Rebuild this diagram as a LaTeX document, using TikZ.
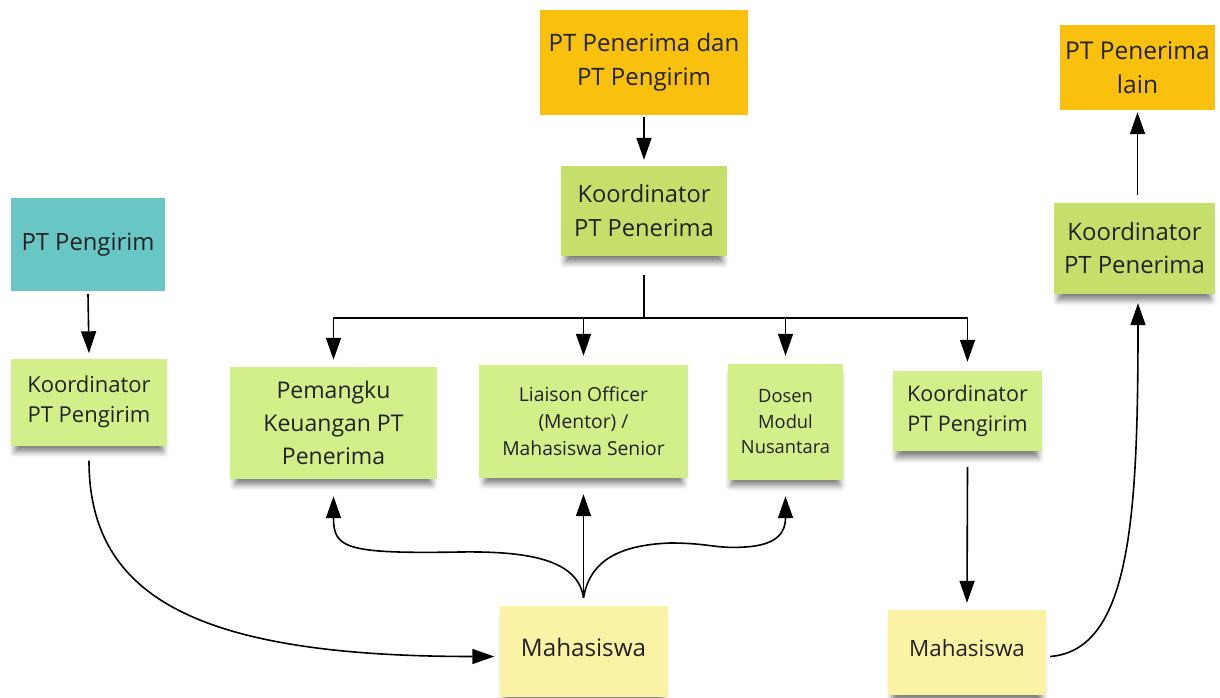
\documentclass[tikz,border=0pt]{standalone}
\usepackage{fontspec}
\setmainfont{Open Sans}
\usetikzlibrary{arrows.meta,shadows.blur}
\definecolor{tealc}{HTML}{68C7C5}
\definecolor{orangec}{HTML}{F9C10D}
\definecolor{limed}{HTML}{C6DF6A}
\definecolor{limel}{HTML}{D3EF8A}
\definecolor{yell}{HTML}{FAF3A6}
\definecolor{txt}{HTML}{222222}
\begin{document}
\begin{tikzpicture}[x=1pt,y=-1pt,
  note/.style={inner sep=0pt, align=center, text=txt, font=\fontsize{23.8}{33}\selectfont},
  shad/.style={blur shadow={shadow xshift=0pt, shadow yshift=-9pt, shadow blur radius=6pt, shadow opacity=50, shadow scale=0.95}},
  arr/.style={line width=1.6pt, -{Triangle[length=22pt,width=15pt]}},
  ln/.style={line width=1.6pt}]
\useasboundingbox (0,0) rectangle (1220,698);

\node[note, fill=tealc, minimum width=154pt, minimum height=93pt] (ptp) at (88,244.5) {PT Pengirim};
\node[note, shad, fill=limel, minimum width=156pt, minimum height=87pt, font=\fontsize{22}{30}\selectfont] (koorL) at (89,402) {Koordinator\\PT Pengirim};
\node[note, fill=orangec, minimum width=208pt, minimum height=105pt, font=\fontsize{24}{34}\selectfont] (top) at (644,62.5) {PT Penerima dan\\PT Pengirim};
\node[note, shad, fill=limed, minimum width=166pt, minimum height=90pt, font=\fontsize{23.7}{34}\selectfont] (koorC) at (644,211) {Koordinator\\PT Penerima};
\node[note, shad, fill=limel, minimum width=207pt, minimum height=112pt, font=\fontsize{23}{33}\selectfont] (pem) at (333.5,423) {Pemangku\\Keuangan PT\\Penerima};
\node[note, shad, fill=limel, minimum width=209pt, minimum height=113pt, font=\fontsize{19.3}{27}\selectfont] (lia) at (583.5,421.5) {Liaison Officer\\(Mentor) /\\Mahasiswa Senior};
\node[note, shad, fill=limel, minimum width=115pt, minimum height=116pt, font=\fontsize{18.3}{25.5}\selectfont] (dos) at (785.5,422) {Dosen\\Modul\\Nusantara};
\node[note, shad, fill=limel, minimum width=149pt, minimum height=80pt, font=\fontsize{21.5}{30}\selectfont] (koorR) at (967.5,411) {Koordinator\\PT Pengirim};
\node[note, shad, fill=yell, minimum width=168pt, minimum height=91pt, font=\fontsize{24.2}{30}\selectfont] (mahaC) at (583.5,651.5) {Mahasiswa\rule[-9pt]{0pt}{0pt}};
\node[note, shad, fill=yell, minimum width=158pt, minimum height=85pt, font=\fontsize{22.4}{30}\selectfont] (mahaR) at (967,652.5) {Mahasiswa\rule[-9pt]{0pt}{0pt}};
\node[note, fill=orangec, minimum width=155pt, minimum height=85pt, font=\fontsize{24.5}{34}\selectfont] (lain) at (1137.5,67.5) {PT Penerima\\lain};
\node[note, shad, fill=limed, minimum width=161pt, minimum height=91pt, font=\fontsize{23.9}{33}\selectfont] (koorRR) at (1134.5,248.5) {Koordinator\\PT Penerima};

\draw[arr] ([yshift=-3pt]ptp.south) -- ([yshift=5pt]koorL.north);
\draw[arr] ([yshift=-2pt]top.south) -- ([yshift=6pt]koorC.north);
\coordinate (bus) at (644,318);
\draw[ln] ([yshift=-19pt]koorC.south) -- (bus);
\draw[arr] (bus) -| ([yshift=7pt]pem.north);
\draw[arr] (bus) -| ([yshift=9pt]koorR.north);
\draw[arr] (bus -| lia.north) -- ([yshift=9pt]lia.north);
\draw[arr] (bus -| dos.north) -- ([yshift=8pt]dos.north);
\draw[arr] ([yshift=-16pt]koorR.south) -- ([yshift=7pt]mahaR.north);

\draw[arr] ([yshift=-15pt]koorL.south) .. controls +(0,138) and +(-294,0) .. ([xshift=-5pt,yshift=-5pt]mahaC.west);

\coordinate (cusp) at ([yshift=8pt]mahaC.north);
\draw[arr] (cusp) -- ([yshift=-16pt]lia.south);
\draw[arr] (cusp) .. controls (578,560) and (530,551) .. (460,552) .. controls (345,554) and (333.5,548) .. ([yshift=-17pt]pem.south);
\draw[arr] (cusp) .. controls (590,560) and (620,545) .. (670,543) .. controls (710,543) and (715,549) .. (745,547) .. controls (780,545) and (785.5,530) .. ([yshift=-16pt]dos.south);

\draw[arr] ([xshift=4pt,yshift=-4pt]mahaR.east) .. controls (1130,650) and (1138,520) .. ([xshift=3.5pt,yshift=-9pt]koorRR.south);
\draw[arr] ([xshift=3pt,yshift=8pt]koorRR.north) -- ([yshift=-2pt]lain.south);
\end{tikzpicture}
\end{document}
